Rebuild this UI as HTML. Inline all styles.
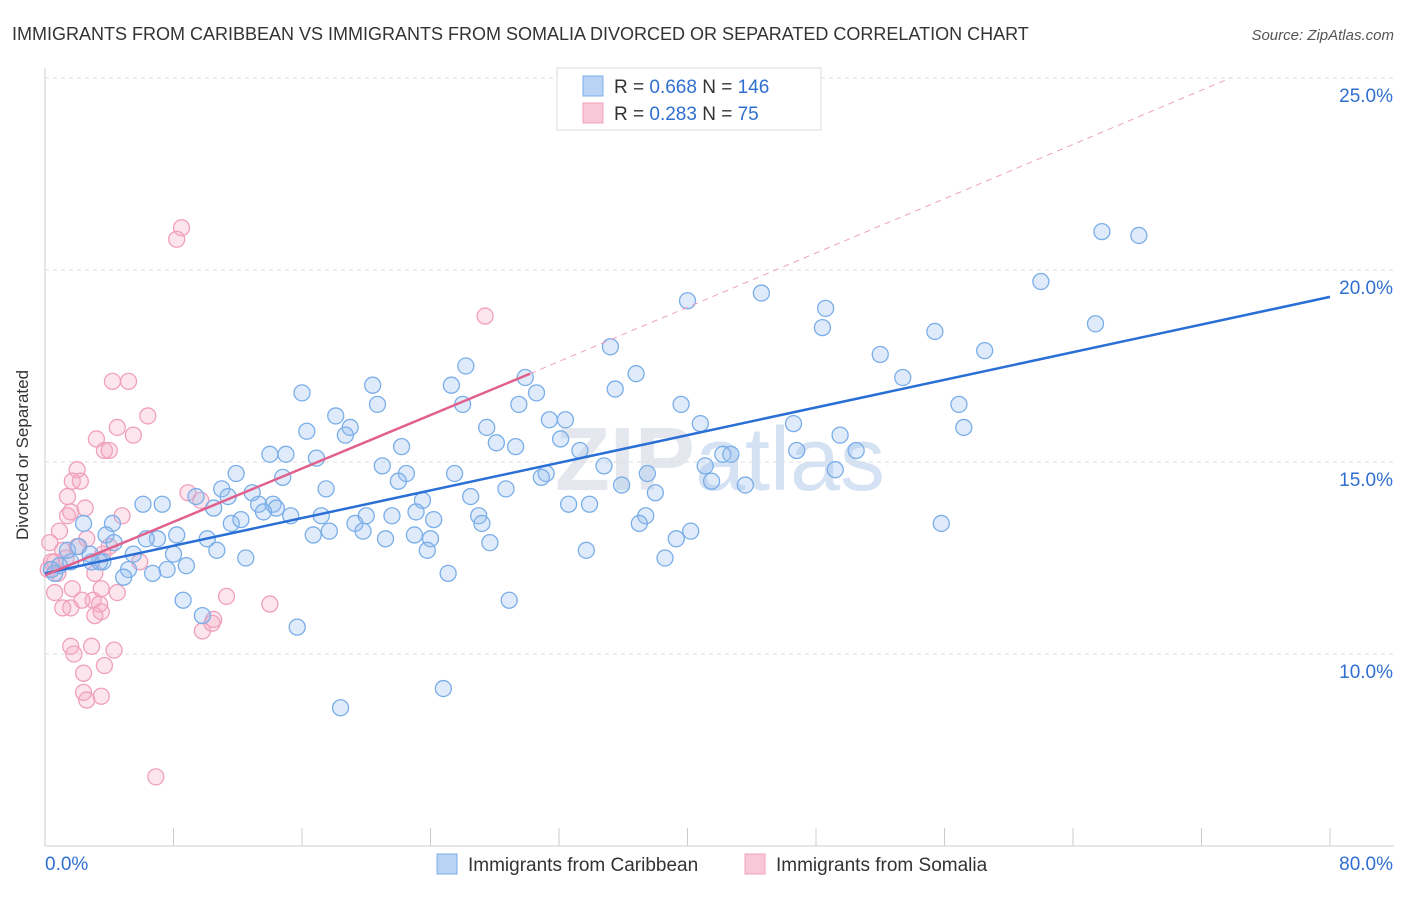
<!DOCTYPE html>
<html><head><meta charset="utf-8">
<style>
body{margin:0;background:#fff;font-family:"Liberation Sans",sans-serif;}
svg text{font-family:"Liberation Sans",sans-serif;}
</style></head>
<body>
<svg id="chart" width="1406" height="892" xmlns="http://www.w3.org/2000/svg">
<text x="12" y="40" font-size="18" fill="#333">IMMIGRANTS FROM CARIBBEAN VS IMMIGRANTS FROM SOMALIA DIVORCED OR SEPARATED CORRELATION CHART</text>
<text x="1394" y="40" font-size="15" fill="#555" font-style="italic" text-anchor="end">Source: ZipAtlas.com</text>
<text x="720" y="490" font-size="90" fill="#e4e8ee" text-anchor="middle" font-weight="bold">ZIP<tspan fill="#d4e2f4" font-weight="normal">atlas</tspan></text>
<g id="grid"></g>
<g id="axes"></g>
<g id="pts"></g>
<g id="trends"></g>
<text x="28" y="455" font-size="17" fill="#333" text-anchor="middle" transform="rotate(-90 28 455)">Divorced or Separated</text>
<g>
<rect x="557" y="68" width="264" height="62" fill="#fff" stroke="#ddd"/>
<rect x="583" y="76" width="20" height="20" fill="#b9d3f5" stroke="#7aaee8"/>
<rect x="583" y="103" width="20" height="20" fill="#f9c8d8" stroke="#f0a0bc"/>
<text x="614" y="93" font-size="19" fill="#333">R = <tspan fill="#2f6fd0">0.668</tspan>   N = <tspan fill="#2f6fd0">146</tspan></text>
<text x="614" y="120" font-size="19" fill="#333">R = <tspan fill="#2f6fd0">0.283</tspan>   N =   <tspan fill="#2f6fd0">75</tspan></text>
</g>
<g>
<rect x="437" y="854" width="20" height="20" fill="#b9d3f5" stroke="#7aaee8"/>
<text x="468" y="871" font-size="19" fill="#333">Immigrants from Caribbean</text>
<rect x="745" y="854" width="20" height="20" fill="#f9c8d8" stroke="#f0a0bc"/>
<text x="776" y="871" font-size="19" fill="#333">Immigrants from Somalia</text>
</g>
</svg>
<script>
const yTicks=[10,15,20,25];
const yTickLabels=["10.0%","15.0%","20.0%","25.0%"];
const xLabels=["0.0%","80.0%"];
const blueX=[65.8,68.1,62.0,65.4,44.6,40.0,48.6,48.4,55.4,58.5,52.0,53.4,35.2,36.8,35.5,26.2,25.3,29.9,30.6,26.0,29.5,20.4,20.7,16.0,18.1,19.0,18.7,16.3,22.2,27.5,28.1,29.3,31.4,32.4,32.1,33.3,39.6,40.8,46.6,49.5,46.8,50.5,56.9,57.2,42.2,42.7,41.1,41.5,43.6,49.2,34.8,37.5,35.9,38.0,31.2,30.9,25.5,21.0,22.5,22.0,16.9,14.0,15.0,11.9,14.8,17.5,11.0,9.4,11.4,12.9,13.3,14.2,14.4,10.5,6.1,7.3,4.2,2.4,3.8,4.3,7.0,8.2,10.1,11.6,12.2,13.6,15.3,17.2,16.7,17.7,19.3,19.8,20.0,21.6,21.2,23.0,23.5,23.1,24.2,24.0,23.8,26.5,27.0,27.2,27.7,28.7,32.6,33.9,37.4,37.0,33.7,39.3,40.2,38.6,55.8,25.1,28.9,24.8,18.4,15.7,9.8,8.6,12.5,10.7,8.8,8.0,7.6,6.7,5.2,4.9,5.5,3.6,2.9,1.6,0.9,0.6,0.4,1.4,2.1,2.8,3.4,6.3];
const blueY=[21.0,20.9,19.7,18.6,19.4,19.2,19.0,18.5,18.4,17.9,17.8,17.2,18.0,17.3,16.9,17.5,17.0,17.2,16.8,16.5,16.5,17.0,16.5,16.8,16.2,15.9,15.7,15.8,15.4,15.9,15.5,15.4,16.1,16.1,15.6,15.3,16.5,16.0,16.0,15.7,15.3,15.3,16.5,15.9,15.2,15.2,14.9,14.5,14.4,14.8,14.9,14.7,14.4,14.2,14.7,14.6,14.7,14.9,14.7,14.5,15.1,15.2,15.2,14.7,14.6,14.3,14.3,14.1,14.1,14.2,13.9,13.9,13.8,13.8,13.9,13.9,13.4,13.4,13.1,12.9,13.0,13.1,13.0,13.4,13.5,13.7,13.6,13.6,13.1,13.2,13.4,13.2,13.6,13.6,13.0,13.1,14.0,13.7,13.5,13.0,12.7,14.1,13.6,13.4,12.9,14.3,13.9,13.9,13.6,13.4,12.7,13.0,13.2,12.5,13.4,12.1,11.4,9.1,8.6,10.7,11.0,11.4,12.5,12.7,12.3,12.6,12.2,12.1,12.2,12.0,12.6,12.4,12.4,12.4,12.3,12.1,12.2,12.7,12.8,12.6,12.4,13.0];
const pinkX=[8.5,8.2,27.4,4.2,5.2,6.4,4.5,5.5,3.2,3.7,4.0,2.0,1.7,2.2,1.4,2.5,1.4,1.6,4.8,0.9,2.6,2.0,0.3,4.0,3.6,5.9,1.3,0.6,0.2,0.8,3.1,1.7,0.6,3.5,4.5,3.0,2.3,3.4,1.6,1.1,3.5,3.1,10.5,11.3,14.0,9.8,1.6,4.3,1.8,2.9,3.7,2.4,2.4,3.5,2.6,6.9,8.9,9.7,10.4,0.4,1.1];
const pinkY=[21.1,20.8,18.8,17.1,17.1,16.2,15.9,15.7,15.6,15.3,15.3,14.8,14.5,14.5,14.1,13.8,13.6,13.7,13.6,13.2,13.0,12.8,12.9,12.8,12.6,12.4,12.5,12.4,12.2,12.1,12.1,11.7,11.6,11.7,11.6,11.4,11.4,11.3,11.2,11.2,11.1,11.0,10.9,11.5,11.3,10.6,10.2,10.1,10.0,10.2,9.7,9.5,9.0,8.9,8.8,6.8,14.2,14.0,10.8,12.4,12.7];
const blueTrend=[[0,12.1],[80,19.3]];
const pinkTrend=[[0,12.05],[30.2,17.3]];
const pinkDash=[[30.2,17.3],[73.8,25.0]];

const NS="http://www.w3.org/2000/svg";
const X=v=>45+v*(1285/80);
const Y=v=>1038-v*38.4;
function mk(tag,attrs,parent){const e=document.createElementNS(NS,tag);for(const k in attrs)e.setAttribute(k,attrs[k]);parent.appendChild(e);return e;}
const grid=document.getElementById('grid'),axes=document.getElementById('axes'),pts=document.getElementById('pts'),tr=document.getElementById('trends');
yTicks.forEach((t,i)=>{
  const l=mk('line',{x1:45,x2:1394,y1:Y(t),y2:Y(t),stroke:'#ddd','stroke-dasharray':'4,4'},grid);
  
  
  const tx=mk('text',{x:1393,y:Y(t)+24,'font-size':19,fill:'#2f6fd0','text-anchor':'end'},axes);
  tx.textContent=yTickLabels[i];
  
  
});
const ax=mk('line',{x1:45,x2:1394,y1:846,y2:846,stroke:'#ccc'},axes);


const ay=mk('line',{x1:45,x2:45,y1:68,y2:846,stroke:'#ccc'},axes);


for(let i=0;i<=10;i++){
  const t=mk('line',{x1:X(i*8),x2:X(i*8),y1:828,y2:846,stroke:'#ccc'},axes);
  
  
}
[[0,'start',45],[80,'end',1393]].forEach((d,i)=>{
  const t=mk('text',{x:d[2],y:870,'font-size':19,fill:'#2f6fd0','text-anchor':d[1]},axes);
  t.textContent=xLabels[i];
  
  
});
pinkX.forEach((x,i)=>{
  const c=mk('circle',{cx:X(x),cy:Y(pinkY[i]),r:8,fill:'rgba(245,170,196,0.3)',stroke:'#f0a0bc','stroke-width':1.3},pts);
  
  
});
blueX.forEach((x,i)=>{
  const c=mk('circle',{cx:X(x),cy:Y(blueY[i]),r:8,fill:'rgba(150,190,240,0.3)',stroke:'#7aaee8','stroke-width':1.3},pts);
  
  
});
const pd=mk('line',{x1:X(pinkDash[0][0]),y1:Y(pinkDash[0][1]),x2:X(pinkDash[1][0]),y2:Y(pinkDash[1][1]),stroke:'#f0a0bc','stroke-dasharray':'6,5','stroke-width':1},tr);


const bt=mk('line',{x1:X(blueTrend[0][0]),y1:Y(blueTrend[0][1]),x2:X(blueTrend[1][0]),y2:Y(blueTrend[1][1]),stroke:'#2a6fd6','stroke-width':2.5},tr);


const pt=mk('line',{x1:X(pinkTrend[0][0]),y1:Y(pinkTrend[0][1]),x2:X(pinkTrend[1][0]),y2:Y(pinkTrend[1][1]),stroke:'#e0608e','stroke-width':2.5},tr);


</script>
</body></html>
